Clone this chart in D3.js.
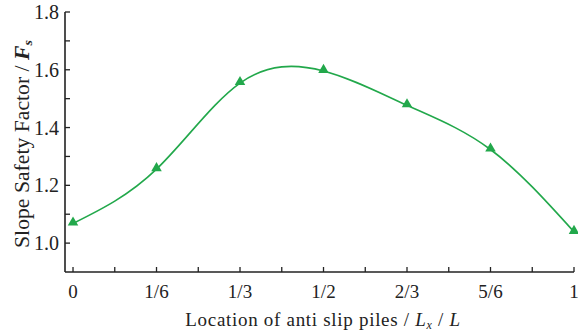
<!DOCTYPE html>
<html>
<head>
<meta charset="utf-8">
<script src="https://cdn.jsdelivr.net/npm/d3@7"></script>
<style>
  body { margin: 0; background: #fff; }
  text { font-family: "Liberation Serif", "Times New Roman", serif; fill: #222; }
</style>
</head>
<body>
<div id="chart"></div>
<script>
  const xLabels = ["0", "1/6", "1/3", "1/2", "2/3", "5/6", "1"];
  const xValues = [0, 1 / 6, 1 / 3, 1 / 2, 2 / 3, 5 / 6, 1];
  const safetyFactor = [1.068, 1.256, 1.554, 1.596, 1.477, 1.324, 1.039];
  const yTicks = [1.0, 1.2, 1.4, 1.6, 1.8];

  const width = 578, height = 333;
  const margin = { top: 12, right: 4, bottom: 61, left: 65 };

  const svg = d3.select("#chart").append("svg")
    .attr("width", width)
    .attr("height", height);

  const x = d3.scaleLinear()
    .domain([-0.016, 1])
    .range([margin.left, width - margin.right]);

  const y = d3.scaleLinear()
    .domain([0.9, 1.8])
    .range([height - margin.bottom, margin.top]);

  const axisColor = "#222";

  // x axis, ticks inside
  const xAxis = svg.append("g")
    .attr("transform", `translate(0,${height - margin.bottom})`);
  xAxis.append("line")
    .attr("x1", margin.left).attr("x2", x(1))
    .attr("stroke", axisColor).attr("stroke-width", 1.6);
  xAxis.selectAll("line.tick")
    .data(d3.range(0, 13).map(i => i / 12))
    .enter().append("line")
    .attr("class", "tick")
    .attr("x1", d => x(d)).attr("x2", d => x(d))
    .attr("y1", 0).attr("y2", -5)
    .attr("stroke", axisColor).attr("stroke-width", 1.3);
  xAxis.selectAll("text")
    .data(xValues)
    .enter().append("text")
    .attr("x", d => x(d))
    .attr("y", 26)
    .attr("text-anchor", "middle")
    .attr("font-size", 19)
    .text((d, i) => xLabels[i]);

  // y axis, ticks inside
  const yAxis = svg.append("g")
    .attr("transform", `translate(${margin.left},0)`);
  yAxis.append("line")
    .attr("y1", y(0.9)).attr("y2", y(1.8))
    .attr("stroke", axisColor).attr("stroke-width", 1.6);
  yAxis.selectAll("line.tick")
    .data(d3.range(10, 19).map(i => i / 10))
    .enter().append("line")
    .attr("class", "tick")
    .attr("y1", d => y(d)).attr("y2", d => y(d))
    .attr("x1", 0).attr("x2", 5)
    .attr("stroke", axisColor).attr("stroke-width", 1.3);
  yAxis.selectAll("text")
    .data(yTicks)
    .enter().append("text")
    .attr("x", -6)
    .attr("y", d => y(d))
    .attr("dy", "0.35em")
    .attr("text-anchor", "end")
    .attr("font-size", 20)
    .text(d => d.toFixed(1));

  // axis titles
  const xTitle = svg.append("text")
    .attr("x", 323)
    .attr("y", 326)
    .attr("text-anchor", "middle")
    .attr("font-size", 19)
    .attr("letter-spacing", 0.7);
  xTitle.append("tspan").text("Location of anti slip piles / ");
  xTitle.append("tspan").attr("font-style", "italic").text("L");
  xTitle.append("tspan").attr("font-style", "italic").attr("font-size", 12).attr("dy", 3).text("x");
  xTitle.append("tspan").attr("dy", -3).text(" / ");
  xTitle.append("tspan").attr("font-style", "italic").text("L");

  const yTitleG = svg.append("g")
    .attr("transform", `translate(29,144) rotate(-90)`);
  const yTitle = yTitleG.append("text")
    .attr("text-anchor", "middle")
    .attr("font-size", 20);
  yTitle.append("tspan").text("Slope Safety Factor / ");
  yTitle.append("tspan").attr("font-style", "italic").attr("font-weight", "bold").text("F");
  yTitle.append("tspan").attr("font-style", "italic").attr("font-weight", "bold").attr("font-size", 13).attr("dy", 3).text("s");
  // the original title is set narrower than the font's natural width
  const yTitleWidth = yTitle.node().getComputedTextLength();
  yTitle.attr("transform", `scale(${208 / yTitleWidth},1)`);

  // data
  const points = xValues.map((v, i) => [v, safetyFactor[i]]);
  const green = "#22a84b";

  const line = d3.line()
    .x(d => x(d[0]))
    .y(d => y(d[1]))
    .curve(d3.curveNatural);

  svg.append("path")
    .datum(points)
    .attr("d", line)
    .attr("fill", "none")
    .attr("stroke", green)
    .attr("stroke-width", 1.6);

  svg.selectAll("path.marker")
    .data(points)
    .enter().append("path")
    .attr("class", "marker")
    .attr("transform", d => `translate(${x(d[0])},${y(d[1]) - 1})`)
    .attr("d", d3.symbol().type(d3.symbolTriangle).size(48))
    .attr("fill", green);
</script>
</body>
</html>
